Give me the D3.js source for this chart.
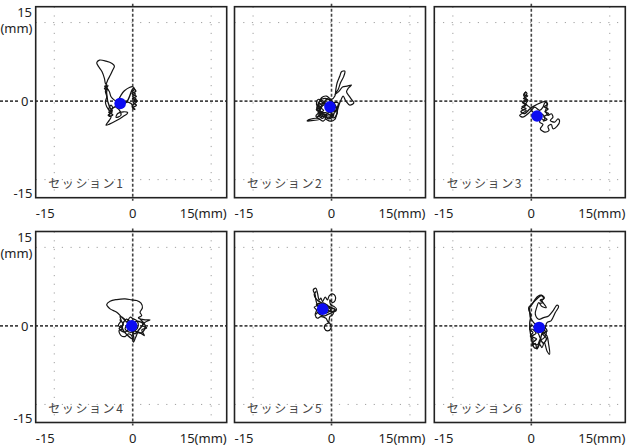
<!DOCTYPE html>
<html><head><meta charset="utf-8">
<script src="https://cdn.jsdelivr.net/npm/d3@7"></script>
<style>body{margin:0;background:#fff}</style>
</head><body>
<svg id="c" width="628" height="447"></svg>
<script>
// ---- data (mm) ----
const sessionLabels = ["セッション1","セッション2","セッション3","セッション4","セッション5","セッション6"];
const xTickLabels = ["-15","0","15(mm)"];
const yTickLabels = ["15","0","-15"];
const yUnitLabel = "(mm)";
const gridValues = [-15, 15];
const meanPoints = [[-2.4,-0.45],[-0.3,-1.1],[1.1,-2.85],[-0.2,0.0],[-1.7,3.2],[1.5,-0.3]];

const traj1 = [[-2.42,-0.45],[-3.50,0.19],[-4.14,0.83],[-4.46,1.78],[-4.97,2.61],[-5.10,3.06],[-4.78,4.01],[-4.27,4.97],[-3.82,5.92],[-3.50,6.69],[-3.95,7.20],[-5.10,7.64],[-6.37,7.83],[-6.88,7.32],[-6.50,6.56],[-5.86,5.61],[-5.41,4.33],[-5.22,3.38],[-4.90,3.00],[-5.35,2.75],[-5.10,2.61],[-5.22,1.78],[-4.97,0.83],[-5.22,-0.13],[-4.97,-1.08],[-4.46,-1.72],[-3.82,-1.40],[-4.14,-0.76],[-4.59,-1.72],[-3.95,-2.23],[-4.71,-2.68],[-4.14,-2.99],[-4.46,-3.63],[-5.10,-4.59],[-4.46,-4.39],[-3.18,-3.76],[-1.91,-2.99],[-0.96,-2.23],[-1.78,-2.04],[-2.87,-2.36],[-3.18,-3.12],[-2.23,-2.68],[-2.55,-1.72],[-3.18,-1.08],[-2.87,-0.13],[-2.23,1.15],[-1.59,1.97],[-0.64,2.61],[0.00,2.74],[0.32,2.23],[-0.13,1.78],[0.51,1.34],[0.00,0.83],[0.64,0.38],[0.13,0.00],[0.76,-0.13],[0.25,-0.57],[-0.13,-1.08],[0.38,-1.59],[0.00,-1.08],[-0.32,-0.45],[-1.27,-0.13],[-2.42,-0.45]];
const dense1 = [[-5.10,2.61],[-4.7,2.9],[-5.4,2.4],[-4.8,2.2],[-5.3,2.9],[-4.9,2.5],[-5.0,1.6],[-4.4,-1.2],[-3.9,-1.9],[-4.6,-2.1],[-3.8,-2.6],[-4.5,-2.9],[-4.0,-1.5],[-3.6,-1.2],[-1.2,-0.2],[0.1,2.4],[0.6,1.9],[-0.1,1.4],[0.7,0.9],[-0.05,0.5],[0.8,0.1],[0.1,-0.3],[0.7,-0.8],[0.0,-1.3],[0.5,-1.6]];

const traj2 = [[-0.32,-1.27],[-1.59,0.00],[-2.55,0.32],[-2.87,-0.64],[-2.23,-1.91],[-2.99,-2.87],[-2.36,-3.50],[-3.50,-3.69],[-4.65,-3.82],[-4.14,-3.50],[-2.55,-3.31],[-1.59,-3.82],[-0.96,-2.87],[-1.91,-2.23],[-2.55,-1.27],[-1.91,0.64],[-0.96,0.96],[0.00,0.32],[0.64,0.96],[0.83,2.23],[1.08,3.50],[1.59,4.78],[1.91,5.61],[2.55,5.73],[2.36,4.78],[1.72,3.50],[1.27,2.23],[0.64,1.27],[1.46,1.91],[2.10,2.68],[2.99,2.87],[3.82,3.06],[3.18,2.42],[2.87,1.78],[3.38,0.96],[3.82,0.32],[4.27,-0.32],[3.50,-0.76],[2.74,0.00],[2.23,0.96],[1.72,0.00],[1.27,-1.27],[0.96,-2.55],[0.64,-3.50],[-0.32,-3.82],[-1.27,-3.18],[-0.64,-2.23],[0.64,-1.91],[1.27,-0.32],[0.32,-0.32],[-0.96,-0.64],[-2.23,-1.15],[-1.59,-2.87],[0.00,-2.87],[-1.2,-0.4],[-2.4,-0.9],[-1.5,-1.8],[-2.6,-2.2],[-1.0,-2.6],[-2.0,-3.0],[0.5,-2.4],[-0.5,-3.3],[1.0,-1.5],[-0.2,0.2],[-1.8,0.4],[-2.8,-1.5],[-1.2,-2.2],[0.6,-0.8],[-0.32,-1.27]];
const dense2 = [[-2.6,-0.2],[-1.8,-1.0],[-2.9,-1.6],[-2.0,-2.4],[-2.7,-3.0],[-1.4,-2.6],[-0.6,-3.4],[0.4,-2.8],[-0.3,-2.0],[0.8,-1.2],[0.2,-0.4],[-0.8,0.4],[-1.6,-0.6],[-2.4,-2.7],[-1.7,-3.3],[-0.8,-2.4],[0.5,-3.2],[1.1,-2.0],[0.3,-1.6],[-2.2,0.1]];

const traj3 = [[1.08,-2.87],[0.32,-2.10],[-0.32,-1.15],[-1.08,-0.51],[-0.64,0.13],[-1.27,0.76],[-0.83,1.40],[-1.08,1.72],[-1.46,1.08],[-0.96,0.45],[-1.72,-0.19],[-1.08,-0.83],[-1.91,-1.46],[-0.96,-1.78],[-2.23,-2.74],[-1.59,-3.06],[-0.64,-2.42],[0.00,-1.78],[0.64,-1.15],[1.59,-1.78],[2.23,-1.15],[2.55,-0.38],[2.87,-0.19],[2.99,-1.02],[2.74,-1.78],[3.18,-2.74],[3.82,-2.42],[4.14,-3.06],[3.63,-3.69],[4.46,-4.01],[5.10,-3.38],[5.41,-3.82],[4.90,-4.84],[4.14,-5.29],[3.82,-4.46],[3.18,-4.84],[3.38,-5.61],[2.55,-5.92],[1.72,-5.29],[2.23,-4.46],[1.59,-4.01],[1.91,-3.38],[2.55,-3.69],[2.36,-2.74],[1.59,-2.42],[1.08,-2.87]];
const dense3 = [[-1.0,1.8],[-1.4,1.2],[-0.7,1.0],[-1.5,0.5],[-0.8,0.2],[-1.6,-0.3],[-0.9,-0.6],[-1.8,-1.1],[-1.0,-1.4],[-2.0,-2.0],[-1.3,-2.4],[-0.4,-1.6],[0.4,-1.0],[2.6,-0.1],[3.1,-0.6],[2.5,-1.1],[3.2,-1.5],[2.6,-2.0],[3.3,-2.4],[2.4,-3.0],[3.0,-3.5],[2.2,-3.8]];

const traj4 = [[-0.19,0.00],[-1.46,1.02],[-2.10,1.66],[-3.06,2.61],[-4.33,3.25],[-4.97,4.08],[-4.33,4.71],[-3.06,5.03],[-1.46,5.16],[-0.19,4.97],[0.76,4.84],[1.59,4.33],[1.85,3.44],[1.40,2.61],[1.72,1.97],[1.08,1.53],[2.36,1.15],[3.31,1.15],[2.36,0.70],[1.85,0.06],[2.68,-0.38],[1.72,-0.76],[2.23,-1.85],[1.08,-1.21],[0.57,-2.17],[0.13,-3.12],[-0.19,-1.85],[-0.83,-1.53],[-1.46,-2.04],[-2.23,-1.85],[-2.61,-0.89],[-1.97,-0.57],[-2.74,0.06],[-2.23,1.02],[-2.42,1.78],[-1.59,1.34],[-1.15,0.70],[-0.51,1.66],[0.13,1.34],[0.76,1.02],[1.08,0.06],[0.45,-0.89],[-0.51,-1.21],[-1.46,-0.57],[-0.70,0.38],[-0.19,0.00]];
const dense4 = [[-2.5,1.2],[-1.8,0.2],[-2.6,-0.5],[-1.5,-1.2],[-0.6,-0.6],[0.4,-1.5],[1.3,-0.6],[2.0,0.4],[0.9,0.9],[-0.2,0.6],[-1.2,1.3],[-2.0,-0.2],[-1.0,-1.8],[0.2,-2.5],[0.0,-0.9],[1.6,-1.4],[2.4,-0.1],[1.4,1.3]];

const traj5 = [[-1.72,3.18],[-2.68,4.01],[-2.99,4.97],[-3.12,5.92],[-3.50,6.88],[-2.99,7.20],[-2.68,6.24],[-2.36,4.97],[-2.04,5.29],[-1.72,4.65],[-1.21,5.48],[-0.76,4.97],[-0.45,5.73],[0.19,6.11],[0.70,5.73],[0.70,4.84],[0.19,4.46],[-0.32,4.97],[-0.13,4.01],[0.51,3.69],[0.96,3.18],[0.51,2.74],[0.19,2.10],[-0.32,1.78],[-0.45,1.15],[-0.57,0.64],[-1.21,0.19],[-1.34,-0.51],[-0.76,-0.96],[-0.13,-0.51],[-0.25,0.38],[-0.70,0.83],[-1.08,1.46],[-2.04,1.78],[-2.68,1.46],[-3.12,2.10],[-2.87,3.06],[-3.31,3.57],[-2.36,4.01],[-1.40,4.33],[-0.76,3.57],[-0.13,3.06],[-1.21,2.42],[-2.04,2.42],[-1.72,3.18]];
const dense5 = [[-3.0,2.2],[-2.2,3.4],[-2.9,4.0],[-1.8,4.4],[-0.9,4.0],[-0.3,3.5],[0.6,3.2],[0.2,2.6],[-0.7,2.2],[-1.6,1.9],[-2.6,2.6],[-2.1,3.0],[-1.1,3.8],[-0.4,2.8],[0.9,2.9],[-2.8,5.0],[-3.3,6.0],[-2.9,6.6]];

const traj6 = [[1.53,-0.32],[0.45,0.64],[-0.19,1.59],[-0.32,2.55],[-0.51,3.50],[0.13,4.14],[0.76,5.10],[1.21,5.61],[1.85,5.86],[2.48,5.41],[2.04,4.78],[2.48,4.14],[2.87,3.50],[2.04,3.69],[1.40,4.46],[1.08,3.69],[0.76,2.23],[1.40,1.27],[2.36,1.59],[3.31,1.91],[4.14,2.87],[4.90,3.95],[5.22,3.69],[4.59,2.55],[4.14,1.59],[3.76,0.96],[2.99,0.64],[2.68,-0.32],[2.36,-1.27],[2.99,-1.91],[3.31,-3.50],[3.50,-5.41],[2.99,-4.78],[2.48,-3.18],[2.04,-4.14],[1.59,-3.50],[1.08,-4.46],[0.76,-3.31],[0.13,-3.82],[0.32,-2.55],[-0.19,-1.91],[0.32,-1.27],[-0.32,-0.64],[0.13,0.13],[0.76,-0.64],[1.40,-1.59],[1.85,-2.55],[2.48,-2.23],[2.87,-1.27],[2.23,-0.64],[1.53,-0.32]];
const dense6 = [[0.2,-0.6],[0.9,-1.4],[0.1,-2.0],[1.0,-2.5],[0.3,-3.2],[1.2,-3.6],[1.7,-2.6],[2.3,-3.3],[2.9,-2.4],[2.2,-1.5],[3.0,-1.0],[2.5,-0.3],[1.9,-1.9],[1.3,-4.0],[0.6,-4.2],[-0.2,-1.2],[-0.3,0.6],[-0.1,2.0],[-0.4,3.2],[0.3,4.4],[1.2,5.3],[1.9,5.8],[2.4,5.2],[1.7,4.9],[2.2,4.5],[1.5,4.3]];

const trajectories = [[traj1, dense1], [traj2, dense2], [traj3, dense3], [traj4, dense4], [traj5, dense5], [traj6, dense6]];
const xDomain = [-18.55, 17.97];
const yDomain = [-18.45, 18.03];

// ---- layout ----
const colLeft = [35.7, 234.5, 434.3];
const rowTop = [6.7, 231.5];
const W = 191, H = 191;
const svg = d3.select("#c");
const x = d3.scaleLinear().domain(xDomain).range([0, W]);
const y = d3.scaleLinear().domain(yDomain).range([H, 0]);
const numFont = "'Noto Sans', 'Open Sans', sans-serif";
const lineGen = d3.line().x(d => x(d[0])).y(d => y(d[1])).curve(d3.curveCatmullRom.alpha(0.5));

sessionLabels.forEach((lab, i) => {
  const r = Math.floor(i / 3), c = i % 3;
  const g = svg.append("g").attr("transform", `translate(${colLeft[c]},${rowTop[r]})`);
  gridValues.forEach(v => {
    g.append("line").attr("x1", x(v)).attr("x2", x(v)).attr("y1", 0).attr("y2", H)
      .attr("stroke", "#a0a0a0").attr("stroke-width", 1).attr("stroke-dasharray", "1.2,7.5");
    g.append("line").attr("x1", 0).attr("x2", W).attr("y1", y(v)).attr("y2", y(v))
      .attr("stroke", "#a0a0a0").attr("stroke-width", 1).attr("stroke-dasharray", "1.2,7.5");
  });
  const extL = c === 0 ? colLeft[0] : 0;
  g.append("line").attr("x1", -extL).attr("x2", W).attr("y1", y(0)).attr("y2", y(0))
    .attr("stroke", "#444").attr("stroke-width", 1.6).attr("stroke-dasharray", "3,2");
  g.append("line").attr("x1", x(0)).attr("x2", x(0)).attr("y1", -3).attr("y2", H + 3)
    .attr("stroke", "#444").attr("stroke-width", 1.6).attr("stroke-dasharray", "3,2");
  trajectories[i].forEach((seg, k) => {
    g.append("path").datum(seg).attr("d", lineGen)
      .attr("fill", "none").attr("stroke", "#151515").attr("stroke-width", k === 0 ? 1.2 : 1.4)
      .attr("stroke-linejoin", "round");
  });
  g.append("circle").attr("cx", x(meanPoints[i][0])).attr("cy", y(meanPoints[i][1]))
    .attr("r", 5.8).attr("fill", "#0c0cf2");
  g.append("rect").attr("x", 0).attr("y", 0).attr("width", W).attr("height", H)
    .attr("fill", "none").attr("stroke", "#222").attr("stroke-width", 1.6);
  g.append("text").attr("x", 12.5).attr("y", 181.5).text(lab)
    .attr("font-family", "'Noto Sans CJK JP', sans-serif").attr("font-size", 12)
    .attr("letter-spacing", 1.6).attr("fill", "#444");
  const xl = g.append("g").attr("font-family", numFont).attr("font-size", 13).attr("fill", "#222");
  xl.append("text").attr("x", x(xDomain[0])).attr("y", H + 20).attr("text-anchor", "start").text(xTickLabels[0]);
  xl.append("text").attr("x", x(0)).attr("y", H + 20).attr("text-anchor", "middle").text(xTickLabels[1]);
  xl.append("text").attr("x", x(xDomain[1])).attr("y", H + 20).attr("text-anchor", "end").text(xTickLabels[2]);
  if (c === 0) {
    const yl = svg.append("g").attr("font-family", numFont).attr("font-size", 13).attr("fill", "#222");
    const t = rowTop[r];
    yl.append("text").attr("x", 32).attr("y", t + 10).attr("text-anchor", "end").text(yTickLabels[0]);
    yl.append("text").attr("x", 32.5).attr("y", t + 26.5).attr("text-anchor", "end").text(yUnitLabel);
    yl.append("rect").attr("x", 19).attr("y", t + y(0) - 7).attr("width", 11).attr("height", 13).attr("fill", "#fff");
    yl.append("text").attr("x", 28.5).attr("y", t + y(0) + 4.7).attr("text-anchor", "end").text(yTickLabels[1]);
    yl.append("text").attr("x", 32.5).attr("y", t + H).attr("text-anchor", "end").text(yTickLabels[2]);
  }
});
</script>
</body></html>
